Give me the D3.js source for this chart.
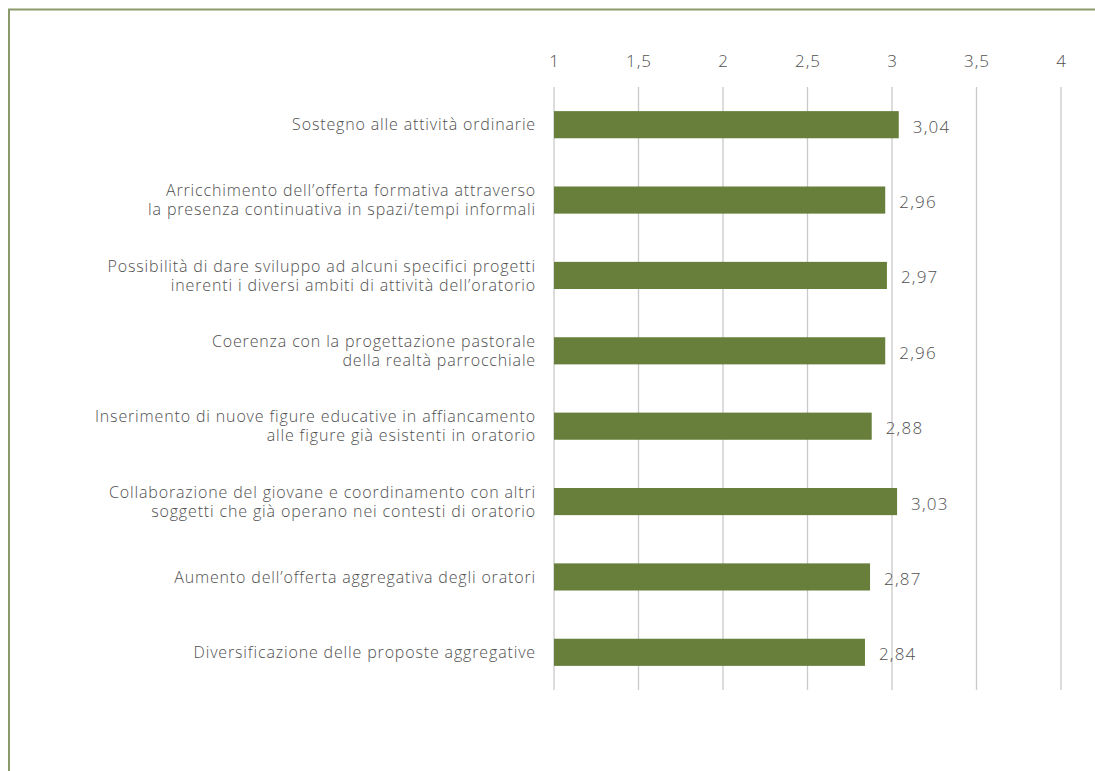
<!DOCTYPE html>
<html>
  <head>
    <meta charset="utf-8">
    <script src="https://d3js.org/d3.v7.min.js"></script>
    <style>
      body { margin: 0px; background: white; }
      text { font-family: 'Open Sans', sans-serif; font-weight: 300; fill: #505050; }
      .tick text { font-size: 17px; letter-spacing: 1px; fill: #505050; }
      .cat-label { font-size: 16px; letter-spacing: 0.85px; }
      .val-label { font-size: 17px; letter-spacing: 1.2px; }
    </style>
  </head>
  <body>
    <div id="chart"></div>
    <script>
      // categorie (una riga per ogni rigo di testo)
      const categories = [
        ["Sostegno alle attività ordinarie"],
        ["Arricchimento dell’offerta formativa attraverso", "la presenza continuativa in spazi/tempi informali"],
        ["Possibilità di dare sviluppo ad alcuni specifici progetti", "inerenti i diversi ambiti di attività dell’oratorio"],
        ["Coerenza con la progettazione pastorale", "della realtà parrocchiale"],
        ["Inserimento di nuove figure educative in affiancamento", "alle figure già esistenti in oratorio"],
        ["Collaborazione del giovane e coordinamento con altri", "soggetti che già operano nei contesti di oratorio"],
        ["Aumento dell’offerta aggregativa degli oratori"],
        ["Diversificazione delle proposte aggregative"]
      ];
      const values = [3.04, 2.96, 2.97, 2.96, 2.88, 3.03, 2.87, 2.84];
      const tickValues = [1, 1.5, 2, 2.5, 3, 3.5, 4];

      const W = 1095, H = 771;
      const fmt = v => String(v).replace('.', ',');

      const svg = d3.select('#chart').append('svg')
        .attr('width', W)
        .attr('height', H);

      // cornice
      svg.append('path')
        .attr('d', `M9,${H} L9,9.5 L${W},9.5`)
        .attr('fill', 'none')
        .attr('stroke', '#8b9a6b')
        .attr('stroke-width', 2);

      const xScale = d3.scaleLinear()
        .domain([1, 4])
        .range([554, 1061]);

      const gridTop = 87, gridBottom = 690;

      const yScale = d3.scaleBand()
        .domain(d3.range(values.length))
        .range([gridTop, gridBottom])
        .paddingInner(0.64)
        .paddingOuter(0.32);

      // griglia
      svg.append('g').selectAll('line')
        .data(tickValues)
        .enter().append('line')
          .attr('x1', d => xScale(d))
          .attr('x2', d => xScale(d))
          .attr('y1', gridTop)
          .attr('y2', gridBottom)
          .attr('stroke', '#c9c9c9')
          .attr('stroke-width', 1.3);

      // asse in alto, solo etichette
      const xAxis = d3.axisTop(xScale)
        .tickValues(tickValues)
        .tickFormat(fmt)
        .tickSize(0)
        .tickPadding(0);

      const xAxisG = svg.append('g')
        .attr('transform', 'translate(0,67)')
        .call(xAxis);
      xAxisG.select('.domain').remove();
      xAxisG.attr('font-family', null).attr('font-size', null);

      // barre
      svg.append('g').selectAll('rect')
        .data(values)
        .enter().append('rect')
          .attr('x', xScale(1))
          .attr('y', (d, i) => yScale(i))
          .attr('width', d => xScale(d) - xScale(1))
          .attr('height', yScale.bandwidth())
          .attr('fill', '#687f3b');

      // valori
      svg.append('g').selectAll('text')
        .data(values)
        .enter().append('text')
          .attr('class', 'val-label')
          .attr('x', d => xScale(d) + 14)
          .attr('y', (d, i) => yScale(i) + yScale.bandwidth() / 2 + 2)
          .attr('dy', '0.35em')
          .text(fmt);

      // etichette categorie
      const lineH = 19;
      const catG = svg.append('g').selectAll('text')
        .data(categories)
        .enter().append('text')
          .attr('class', 'cat-label')
          .attr('text-anchor', 'end')
          .attr('y', (d, i) => yScale(i) + yScale.bandwidth() / 2);

      catG.selectAll('tspan')
        .data(d => d.map((t, j) => ({ t, j, n: d.length })))
        .enter().append('tspan')
          .attr('x', 536)
          .attr('dy', d => d.j === 0 ? ((0.35 * 16) - (d.n - 1) * lineH / 2) + 'px' : lineH + 'px')
          .text(d => d.t);
    </script>
  </body>
</html>
